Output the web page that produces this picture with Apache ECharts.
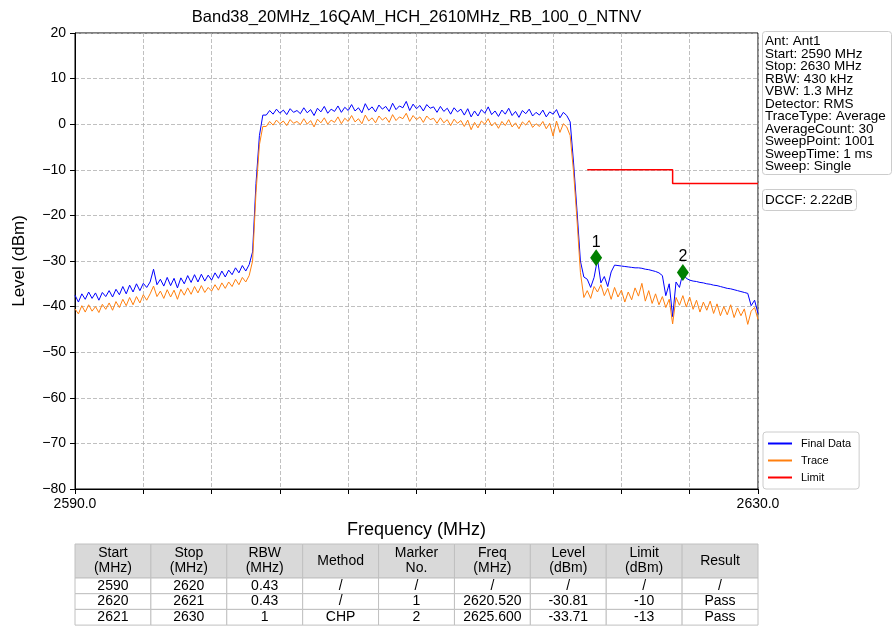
<!DOCTYPE html>
<html><head><meta charset="utf-8">
<script src="https://cdn.jsdelivr.net/npm/echarts@6/dist/echarts.min.js"></script>
<style>html,body{margin:0;padding:0;background:#fff}#c{width:893px;height:629px}</style>
</head><body><div id="c"></div>
<script>
// ---------------- data ----------------
const chartTitle = 'Band38_20MHz_16QAM_HCH_2610MHz_RB_100_0_NTNV';
const freqStart = 2590;   // MHz, first sample
const freqStep = 0.2;     // MHz between samples
const xMin = 2590, xMax = 2630, xTickStep = 4;
const yMin = -80, yMax = 20, yTickStep = 10;

// Final Data (blue), dBm, 2590.0 .. 2630.0 every 0.2 MHz
const finalData = [
  // 2590.0 - 2600.2
  -37.5, -39.0, -37.2, -38.4, -36.8, -38.2, -37.0, -38.6, -36.9, -37.8,
  -36.5, -37.9, -36.2, -37.4, -35.6, -37.2, -35.3, -36.8, -35.0, -36.5,
  -34.9, -35.8, -34.6, -31.8, -35.2, -34.0, -35.5, -33.6, -35.4, -33.8,
  -35.9, -33.7, -35.0, -33.2, -34.7, -33.0, -34.6, -32.9, -34.4, -33.1,
  -34.2, -32.6, -33.8, -32.2, -33.5, -32.0, -33.0, -31.5, -32.6, -31.0,
  -32.2, -30.8,
  // 2600.4 - 2601.0 rising edge
  -28.0, -13.0, -2.5, 2.0,
  // 2601.2 - 2618.8 channel
  2.0, 3.0, 2.2, 3.3, 2.4, 3.1, 2.1, 3.4, 2.6, 3.0,
  2.3, 3.6, 2.5, 3.2, 1.9, 3.5, 2.7, 3.9, 2.4, 3.3,
  2.8, 4.0, 2.6, 3.7, 3.0, 4.3, 2.9, 3.6, 2.5, 4.5,
  3.1, 3.8, 2.7, 4.2, 3.3, 3.9, 2.8, 4.6, 3.2, 4.0,
  3.6, 5.0, 3.0, 4.4, 3.4, 4.1, 2.9, 4.3, 3.5, 3.8,
  2.6, 3.9, 2.8, 3.5, 2.2, 3.6, 2.7, 3.3, 2.0, 3.4,
  1.6, 2.9, 1.8, 3.2, 2.4, 3.8, 2.1, 2.9, 1.7, 3.1,
  2.2, 3.5, 1.9, 2.8, 1.5, 3.0, 2.3, 3.3, 1.8, 2.6,
  2.0, 3.1, 1.6, 2.7, 2.2, 3.2, 1.4, 2.6, 1.9,
  // 2619.0 - 2619.8 falling edge
  0.5, -8.5, -19.0, -30.0, -33.5,
  // 2620.0 - 2630.0
  -34.0, -35.8, -33.6, -29.6, -34.8, -33.4, -35.6, -32.4, -30.9, -31.0,
  -31.1, -31.2, -31.3, -31.4, -31.5, -31.5, -31.6, -31.8, -31.9, -32.1,
  -32.3, -32.6, -33.2, -37.6, -35.0, -42.2, -34.6, -35.8, -32.6, -33.8,
  -34.2, -34.4, -34.5, -34.7, -34.8, -35.0, -35.1, -35.3, -35.4, -35.6,
  -35.8, -36.0, -36.1, -36.3, -36.5, -36.7, -36.9, -37.1, -39.8, -38.6,
  -41.5
];

// Trace (orange), dBm, same sampling
const traceData = [
  // 2590.0 - 2600.2
  -40.5, -41.6, -39.8, -41.2, -39.6, -41.0, -40.0, -41.3, -39.5, -40.6,
  -39.2, -40.8, -38.9, -40.2, -38.4, -39.8, -38.0, -39.6, -37.8, -39.2,
  -37.4, -38.6, -37.2, -35.5, -37.8, -36.6, -38.2, -36.3, -37.9, -36.4,
  -38.4, -36.2, -37.5, -35.9, -37.3, -35.6, -37.0, -35.4, -36.9, -35.8,
  -36.6, -35.2, -36.4, -34.8, -36.0, -34.6, -35.6, -34.0, -35.2, -33.6,
  -34.6, -33.2,
  // 2600.4 - 2601.0
  -30.0, -15.0, -4.5, -0.5,
  // 2601.2 - 2618.8
  -0.5, 0.6, -0.2, 0.9, 0.1, 0.7, -0.3, 1.0, 0.2, 0.6,
  -0.1, 1.2, 0.0, 0.8, -0.6, 1.1, 0.3, 1.4, 0.0, 0.9,
  0.4, 1.6, 0.1, 1.3, 0.6, 1.9, 0.5, 1.2, 0.1, 2.0,
  0.7, 1.4, 0.3, 1.8, 0.9, 1.5, 0.4, 2.1, 0.8, 1.6,
  1.2, 2.4, 0.6, 1.9, 1.0, 1.6, 0.4, 1.8, 1.0, 1.3,
  0.2, 1.4, 0.3, 1.0, -0.3, 1.1, 0.2, 0.8, -0.5, 0.9,
  -1.2, 0.4, -0.8, 0.7, 0.0, 1.2, -0.4, 0.4, -0.9, 0.6,
  -0.3, 1.0, -0.6, 0.3, -1.0, 0.5, -0.2, 0.8, -0.7, 0.1,
  -0.5, 0.6, -1.0, 0.2, -2.6, 0.7, -1.8, 0.1, -0.6,
  // 2619.0 - 2619.8
  -2.5, -10.5, -21.0, -32.5, -38.0,
  // 2620.0 - 2630.0
  -36.5, -38.2, -35.6, -36.8, -35.2, -37.6, -36.0, -38.4, -35.8, -37.9,
  -36.4, -39.0, -36.8, -38.5, -35.9, -37.7, -34.9, -38.8, -36.5, -39.3,
  -37.2, -39.6, -37.8, -40.2, -38.4, -43.8, -38.0, -39.7, -37.6, -40.1,
  -37.9, -40.6, -38.6, -41.2, -39.0, -40.8, -38.8, -41.5, -39.4, -42.0,
  -40.0, -41.8, -39.6, -42.4, -40.3, -42.0, -40.5, -43.9, -41.0, -40.2,
  -42.8
];

// Limit line vertices [MHz, dBm]
const limitLine = [[2620, -10], [2625, -10], [2625, -13], [2630, -13]];

// Markers
const markerNames = ['1', '2'];
const markerFreqs = [2620.52, 2625.6];
const markerLevels = [-29.3, -32.5];

const seriesNames = ['Final Data', 'Trace', 'Limit'];
const seriesColors = ['#0000ff', '#ff7f0e', '#ff0000'];

const infoLines = ['Ant: Ant1', 'Start: 2590 MHz', 'Stop: 2630 MHz', 'RBW: 430 kHz', 'VBW: 1.3 MHz',
  'Detector: RMS', 'TraceType: Average', 'AverageCount: 30', 'SweepPoint: 1001', 'SweepTime: 1 ms', 'Sweep: Single'];
const dccfText = 'DCCF: 2.22dB';

const tableHeader = ['Start\n(MHz)', 'Stop\n(MHz)', 'RBW\n(MHz)', 'Method', 'Marker\nNo.', 'Freq\n(MHz)', 'Level\n(dBm)', 'Limit\n(dBm)', 'Result'];
const tableRows = [
  ['2590', '2620', '0.43', '/', '/', '/', '/', '/', '/'],
  ['2620', '2621', '0.43', '/', '1', '2620.520', '-30.81', '-10', 'Pass'],
  ['2621', '2630', '1', 'CHP', '2', '2625.600', '-33.71', '-13', 'Pass']
];

// ---------------- chart ----------------
const FONT = "'Liberation Sans', Arial, sans-serif";
const toPairs = arr => arr.map((v, i) => [Math.round((freqStart + i * freqStep) * 10) / 10, v]);

const G = { left: 75, right: 758, top: 33, bottom: 489 };
const graphics = [];

// title
graphics.push({ type: 'text', x: (G.left + G.right) / 2, y: 17,
  style: { text: chartTitle, font: '16.5px ' + FONT, fill: '#000', textAlign: 'center', textVerticalAlign: 'middle' } });

// info box
graphics.push({ type: 'rect', shape: { x: 762.5, y: 31.5, width: 129, height: 143, r: 3 },
  style: { fill: '#fff', stroke: '#cccccc', lineWidth: 1 } });
infoLines.forEach((t, i) => graphics.push({ type: 'text', x: 765, y: 41.7 + i * 12.5,
  style: { text: t, font: '13.5px ' + FONT, fill: '#000', textAlign: 'left', textVerticalAlign: 'middle' } }));
// DCCF box
graphics.push({ type: 'rect', shape: { x: 762.5, y: 189.5, width: 94, height: 21, r: 3 },
  style: { fill: '#fff', stroke: '#cccccc', lineWidth: 1 } });
graphics.push({ type: 'text', x: 765, y: 200,
  style: { text: dccfText, font: '13.5px ' + FONT, fill: '#000', textAlign: 'left', textVerticalAlign: 'middle' } });

// table
const nCols = tableHeader.length;
const tL = 75, tR = 758, tTop = 544, headH = 34, rowH = 15.7;
const colW = (tR - tL) / nCols;
tableHeader.forEach((h, c) => {
  graphics.push({ type: 'rect', shape: { x: tL + c * colW, y: tTop, width: colW, height: headH },
    style: { fill: '#d9d9d9', stroke: '#c0c0c0', lineWidth: 1 } });
  graphics.push({ type: 'text', x: tL + c * colW + colW / 2, y: tTop + headH / 2,
    style: { text: h, font: '14px ' + FONT, lineHeight: 15, fill: '#000', textAlign: 'center', textVerticalAlign: 'middle' } });
});
tableRows.forEach((row, r) => {
  row.forEach((cell, c) => {
    const y0 = tTop + headH + r * rowH;
    graphics.push({ type: 'rect', shape: { x: tL + c * colW, y: y0, width: colW, height: rowH },
      style: { fill: '#fff', stroke: '#c0c0c0', lineWidth: 1 } });
    graphics.push({ type: 'text', x: tL + c * colW + colW / 2, y: y0 + rowH / 2,
      style: { text: cell, font: '14px ' + FONT, fill: '#000', textAlign: 'center', textVerticalAlign: 'middle' } });
  });
});

const chart = echarts.init(document.getElementById('c'));
chart.setOption({
  animation: false,
  backgroundColor: '#fff',
  grid: { left: G.left, right: 893 - G.right, top: G.top, bottom: 629 - G.bottom, show: true,
    borderColor: '#000', borderWidth: 1, backgroundColor: 'transparent', containLabel: false },
  legend: {
    data: seriesNames, orient: 'vertical', left: 763, top: 432,
    icon: 'rect', itemWidth: 24, itemHeight: 2, itemGap: 4,
    padding: [5, 8, 5, 5], borderColor: '#cccccc', borderWidth: 1, borderRadius: 3, backgroundColor: '#fff',
    textStyle: { fontSize: 11, fontFamily: FONT, color: '#000', lineHeight: 13, padding: [0, 0, 0, 4] },
    selectedMode: false
  },
  xAxis: {
    type: 'value', min: xMin, max: xMax, interval: xTickStep,
    name: 'Frequency (MHz)', nameLocation: 'middle', nameGap: 32,
    nameTextStyle: { fontSize: 18, fontFamily: FONT, color: '#000' },
    axisLine: { show: true, onZero: false, lineStyle: { color: '#000', width: 1 } },
    axisTick: { show: true, length: 5, lineStyle: { color: '#000' } },
    axisLabel: { fontSize: 14, fontFamily: FONT, color: '#000', margin: 8,
      showMinLabel: true, showMaxLabel: true,
      formatter: v => (v === xMin || v === xMax) ? v.toFixed(1) : '' },
    splitLine: { show: true, lineStyle: { color: '#b0b0b0', type: [4, 2], width: 0.8 } }
  },
  yAxis: {
    type: 'value', min: yMin, max: yMax, interval: yTickStep,
    name: 'Level (dBm)', nameLocation: 'middle', nameGap: 47, nameRotate: 90,
    nameTextStyle: { fontSize: 17, fontFamily: FONT, color: '#000' },
    axisLine: { show: true, onZero: false, lineStyle: { color: '#000', width: 1 } },
    axisTick: { show: true, length: 5, lineStyle: { color: '#000' } },
    axisLabel: { fontSize: 14, fontFamily: FONT, color: '#000', margin: 9,
      formatter: v => (v < 0 ? '\u2212' + Math.abs(v) : String(v)) },
    splitLine: { show: true, lineStyle: { color: '#b0b0b0', type: [4, 2], width: 0.8 } }
  },
  series: [
    { name: seriesNames[0], type: 'line', data: toPairs(finalData), showSymbol: false, symbol: 'none',
      lineStyle: { color: seriesColors[0], width: 1 }, itemStyle: { color: seriesColors[0] }, z: 2 },
    { name: seriesNames[1], type: 'line', data: toPairs(traceData), showSymbol: false, symbol: 'none',
      lineStyle: { color: seriesColors[1], width: 1 }, itemStyle: { color: seriesColors[1] }, z: 3 },
    { name: seriesNames[2], type: 'line', data: limitLine, showSymbol: false, symbol: 'none',
      lineStyle: { color: seriesColors[2], width: 1.5 }, itemStyle: { color: seriesColors[2] }, z: 4 },
    { name: 'Markers', type: 'scatter', symbol: 'diamond', symbolSize: [12, 17],
      itemStyle: { color: '#008000', opacity: 1 }, z: 5,
      data: markerFreqs.map((f, i) => ({ name: markerNames[i], value: [f, markerLevels[i]] })),
      label: { show: true, position: 'top', distance: -1, formatter: p => p.name,
        fontSize: 16, fontFamily: FONT, color: '#000' } }
  ],
  graphic: graphics
});
</script>
</body></html>
